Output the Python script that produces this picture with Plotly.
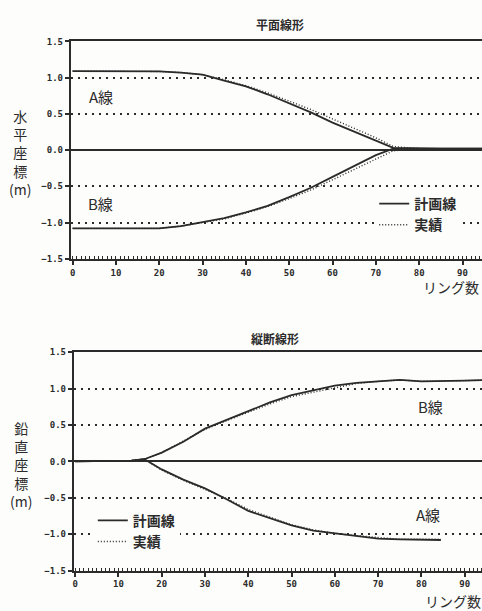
import plotly.graph_objects as go

# ---------------- data ----------------
# 平面線形 (horizontal alignment)
ring_h = [0, 5, 10, 15, 20, 25, 30, 35, 40, 45, 50, 55, 60, 65, 70, 74, 80, 85, 90, 95]
h_A_plan = [1.09, 1.09, 1.09, 1.09, 1.085, 1.07, 1.04, 0.96, 0.88, 0.77, 0.65, 0.52, 0.38, 0.26, 0.13, 0.03, 0.02, 0.02, 0.02, 0.02]
h_A_act = [1.09, 1.09, 1.09, 1.09, 1.085, 1.07, 1.04, 0.97, 0.89, 0.79, 0.68, 0.56, 0.43, 0.30, 0.17, 0.05, 0.02, 0.02, 0.02, 0.02]
h_B_plan = [-1.08, -1.08, -1.08, -1.09, -1.08, -1.05, -1.00, -0.94, -0.86, -0.77, -0.65, -0.52, -0.37, -0.22, -0.07, 0.02, 0.02, 0.02, 0.02, 0.02]
h_B_act = [-1.08, -1.08, -1.08, -1.09, -1.08, -1.05, -1.00, -0.95, -0.87, -0.78, -0.67, -0.55, -0.41, -0.27, -0.12, -0.01, 0.02, 0.02, 0.02, 0.02]

# 縦断線形 (vertical alignment)
ring_v = [0, 5, 10, 13, 16, 20, 25, 30, 35, 40, 45, 50, 55, 60, 65, 70, 75, 80, 85, 90, 95]
v_B_plan = [0.0, 0.0, 0.0, 0.01, 0.03, 0.12, 0.27, 0.45, 0.57, 0.69, 0.81, 0.91, 0.97, 1.04, 1.08, 1.10, 1.12, 1.10, 1.10, 1.11, 1.12]
v_B_act = [0.0, 0.0, 0.0, 0.01, 0.03, 0.12, 0.28, 0.44, 0.56, 0.68, 0.79, 0.89, 0.95, 1.02, 1.07, 1.10, 1.12, 1.10, 1.10, 1.11, 1.12]
ring_vA = [0, 5, 10, 13, 16, 20, 25, 30, 35, 40, 45, 50, 55, 60, 65, 70, 75, 80, 84.5]
v_A_plan = [0.0, 0.0, 0.0, 0.01, 0.03, -0.11, -0.25, -0.37, -0.52, -0.68, -0.78, -0.88, -0.95, -0.99, -1.03, -1.06, -1.07, -1.08, -1.08]
v_A_act = [0.0, 0.0, 0.0, 0.01, 0.03, -0.12, -0.26, -0.38, -0.51, -0.66, -0.77, -0.87, -0.94, -0.99, -1.02, -1.05, -1.07, -1.07, -1.07]

y_ticks = [-1.5, -1.0, -0.5, 0.0, 0.5, 1.0, 1.5]
x_ticks = [0, 10, 20, 30, 40, 50, 60, 70, 80, 90]

INK = "#2b2b2b"
BG = "#fdfdfb"
CJK = "Noto Sans CJK JP"
W, H = 482, 611

fig = go.Figure()

def add_pair(x, plan, act, xa, ya, leg, show):
    fig.add_trace(go.Scatter(x=x, y=plan, mode="lines", name="計画線",
                             line=dict(color=INK, width=1.8), xaxis=xa, yaxis=ya,
                             legend=leg, showlegend=show))
    fig.add_trace(go.Scatter(x=x, y=act, mode="lines", name="実績",
                             line=dict(color=INK, width=1.4, dash="1px,2px"), xaxis=xa, yaxis=ya,
                             legend=leg, showlegend=show))

add_pair(ring_h, h_A_plan, h_A_act, "x", "y", "legend", True)
add_pair(ring_h, h_B_plan, h_B_act, "x", "y", "legend", False)
add_pair(ring_v, v_B_plan, v_B_act, "x2", "y2", "legend2", True)
add_pair(ring_vA, v_A_plan, v_A_act, "x2", "y2", "legend2", False)

tickfont = dict(family="DejaVu Sans Mono", size=9, color=INK, weight="bold")

def xaxis(domain, anchor, rng):
    return dict(domain=domain, anchor=anchor, range=rng, tickvals=x_ticks,
                ticks="outside", ticklen=4, tickwidth=1.5, tickcolor=INK,
                minor=dict(ticks="inside", dtick=1, tick0=0, ticklen=3, tickwidth=1, tickcolor=INK),
                showline=True, linewidth=2, linecolor=INK, mirror=True,
                showgrid=False, zeroline=False, tickfont=tickfont)

def yaxis(domain, anchor):
    return dict(domain=domain, anchor=anchor, range=[-1.5, 1.5], tickvals=y_ticks,
                tickformat=".1f", ticks="outside", ticklen=4, tickwidth=1.5, tickcolor=INK,
                showline=True, linewidth=2, linecolor=INK,
                showgrid=True, gridcolor=INK, gridwidth=1.8, griddash="2px,5px",
                zeroline=True, zerolinecolor=INK, zerolinewidth=1.8,
                tickfont=tickfont)

fig.update_layout(
    width=W, height=H,
    margin=dict(l=0, r=0, t=0, b=0),
    paper_bgcolor=BG, plot_bgcolor=BG,
    xaxis=xaxis([70 / W, 1.0], "y", [-0.4, 94.5]),
    yaxis=yaxis([1 - 258 / H, 1 - 37 / H], "x"),
    xaxis2=xaxis([73 / W, 1.0], "y2", [-0.3, 94.0]),
    yaxis2=yaxis([1 - 575 / H, 1 - 353 / H], "x2"),
    legend=dict(x=374 / W, y=1 - 186 / H, xanchor="left", yanchor="top",
                bgcolor=BG, font=dict(family=CJK, size=14, color=INK, weight="bold"),
                tracegroupgap=0, itemwidth=30),
    legend2=dict(x=92 / W, y=1 - 508 / H, xanchor="left", yanchor="top",
                 bgcolor=BG, font=dict(family=CJK, size=14, color=INK, weight="bold"),
                 tracegroupgap=0, itemwidth=30),
    showlegend=True,
)

def ann(text, x, y, size=13, xanchor="center", yanchor="middle", weight="normal"):
    fig.add_annotation(text=text, x=x, y=y, xref="paper", yref="paper", showarrow=False,
                       xanchor=xanchor, yanchor=yanchor,
                       font=dict(family=CJK, size=size, color=INK, weight=weight))

# titles
ann("平面線形", 280 / W, 1 - 20 / H, size=12, weight="bold")
ann("縦断線形", 275 / W, 1 - 339 / H, size=12, weight="bold")
# y axis titles (vertical stacked)
ann("水<br>平<br>座<br>標<br>(m)", 19 / W, 1 - 150 / H, size=14)
ann("鉛<br>直<br>座<br>標<br>(m)", 20 / W, 1 - 467 / H, size=14)
# x axis titles
ann("リング数", 481 / W, 1 - 287 / H, size=14, xanchor="right")
ann("リング数", 483 / W, 1 - 606 / H, size=14, xanchor="right")
# line labels
ann("A線", 100 / W, 1 - 93 / H, size=15)
ann("B線", 100 / W, 1 - 202 / H, size=15)
ann("B線", 430 / W, 1 - 408 / H, size=15)
ann("A線", 428 / W, 1 - 518 / H, size=15)

fig.write_html("out.html", config={"displayModeBar": False},
               post_script="document.body.style.margin='0';document.body.style.overflow='hidden';")
